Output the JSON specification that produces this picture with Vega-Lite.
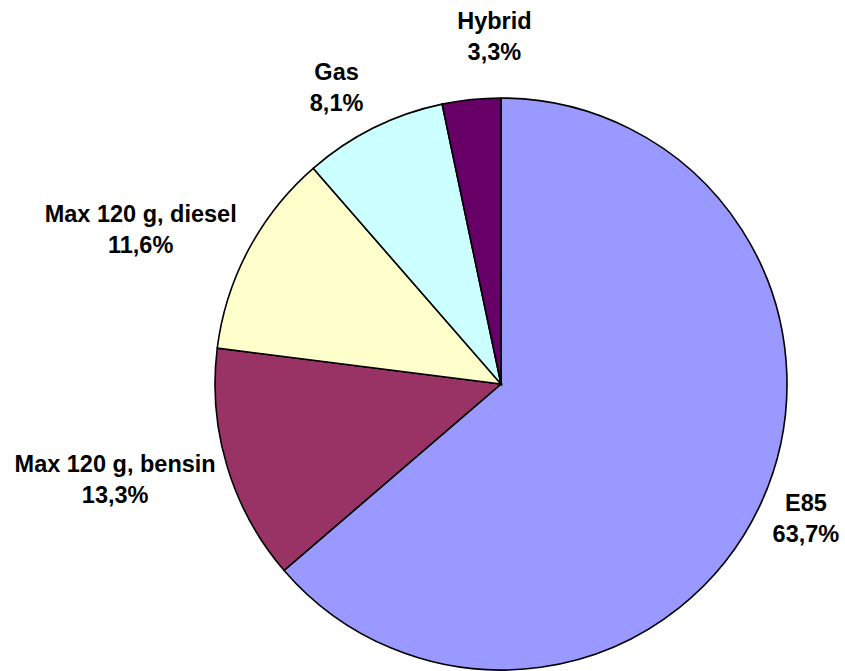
{
  "$schema": "https://vega.github.io/schema/vega-lite/v6.json",
  "autosize": "none",
  "width": 572,
  "height": 572,
  "padding": {"left": 215, "top": 98, "right": 58, "bottom": 1},
  "background": "white",
  "config": {"view": {"stroke": null}},
  "data": {
    "values": [
      {"category": "E85", "value": 63.7, "label": "E85\n63,7%"},
      {"category": "Max 120 g, bensin", "value": 13.3, "label": "Max 120 g, bensin\n13,3%"},
      {"category": "Max 120 g, diesel", "value": 11.6, "label": "Max 120 g, diesel\n11,6%"},
      {"category": "Gas", "value": 8.1, "label": "Gas\n8,1%"},
      {"category": "Hybrid", "value": 3.3, "label": "Hybrid\n3,3%"}
    ]
  },
  "encoding": {
    "theta": {"field": "value", "type": "quantitative", "stack": true},
    "order": {"field": "value", "type": "quantitative", "sort": "descending"}
  },
  "layer": [
    {
      "mark": {"type": "arc", "stroke": "black", "strokeWidth": 1.6},
      "encoding": {
        "color": {
          "field": "category",
          "type": "nominal",
          "scale": {
            "domain": ["E85", "Max 120 g, bensin", "Max 120 g, diesel", "Gas", "Hybrid"],
            "range": ["#9999FF", "#993366", "#FFFFCC", "#CCFFFF", "#660066"]
          },
          "legend": null
        }
      }
    },
    {
      "mark": {"type": "text", "font": "Liberation Sans", "fontWeight": "bold", "fontSize": 23.5, "lineBreak": "\n", "lineHeight": 31, "align": "center", "baseline": "alphabetic", "radius": 286, "dx": 45, "dy": 8, "fill": "black"},
      "encoding": {
        "text": {"condition": {"test": "datum.category === 'E85'", "field": "label"}, "value": ""}
      }
    },
    {
      "mark": {"type": "text", "font": "Liberation Sans", "fontWeight": "bold", "fontSize": 23.5, "lineBreak": "\n", "lineHeight": 31, "align": "center", "baseline": "alphabetic", "radius": 286, "dx": -112, "dy": 6, "fill": "black"},
      "encoding": {
        "text": {"condition": {"test": "datum.category === 'Max 120 g, bensin'", "field": "label"}, "value": ""}
      }
    },
    {
      "mark": {"type": "text", "font": "Liberation Sans", "fontWeight": "bold", "fontSize": 23.5, "lineBreak": "\n", "lineHeight": 31, "align": "center", "baseline": "alphabetic", "radius": 286, "dx": -108, "dy": -27, "fill": "black"},
      "encoding": {
        "text": {"condition": {"test": "datum.category === 'Max 120 g, diesel'", "field": "label"}, "value": ""}
      }
    },
    {
      "mark": {"type": "text", "font": "Liberation Sans", "fontWeight": "bold", "fontSize": 23.5, "lineBreak": "\n", "lineHeight": 31, "align": "center", "baseline": "alphabetic", "radius": 286, "dx": -37, "dy": -48, "fill": "black"},
      "encoding": {
        "text": {"condition": {"test": "datum.category === 'Gas'", "field": "label"}, "value": ""}
      }
    },
    {
      "mark": {"type": "text", "font": "Liberation Sans", "fontWeight": "bold", "fontSize": 23.5, "lineBreak": "\n", "lineHeight": 31, "align": "center", "baseline": "alphabetic", "radius": 286, "dx": 23, "dy": -71, "fill": "black"},
      "encoding": {
        "text": {"condition": {"test": "datum.category === 'Hybrid'", "field": "label"}, "value": ""}
      }
    }
  ]
}
